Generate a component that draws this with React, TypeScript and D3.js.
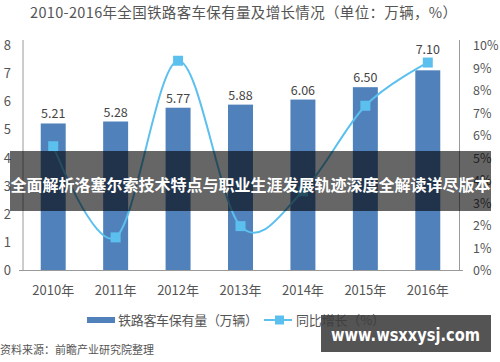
import React from "react";
import * as d3 from "d3";

const years = ["2010年", "2011年", "2012年", "2013年", "2014年", "2015年", "2016年"];
const stock = [5.21, 5.28, 5.77, 5.88, 6.06, 6.5, 7.1];
const stockLabels = ["5.21", "5.28", "5.77", "5.88", "6.06", "6.50", "7.10"];
const growth = [5.5, 1.45, 9.3, 1.95, 3.5, 7.3, 9.22];
const leftTicks = [0, 1, 2, 3, 4, 5, 6, 7, 8];
const rightTicks = [0, 1, 2, 3, 4, 5, 6, 7, 8, 9, 10];

const W = 500;
const H = 362;
const FONT = "'Noto Sans CJK SC', 'Noto Sans', sans-serif";
const BAR = "#5081bb";
const LINE = "#5cc0ef";
const AX = "#9a9a9a";
const TXT = "#555";

export default function App() {
  const x = d3.scaleBand<string>().domain(years).range([22, 459]).paddingInner(0.6).paddingOuter(0.3);
  const yL = d3.scaleLinear().domain([0, 8]).range([270, 45]);
  const yR = d3.scaleLinear().domain([0, 10]).range([270, 45]);
  const cx = (i: number) => (x(years[i]) as number) + x.bandwidth() / 2;
  const line = d3
    .line<number>()
    .x((_, i) => cx(i))
    .y((d) => yR(d))
    .curve(d3.curveCardinal.tension(0));

  const labelY = (i: number) => {
    const top = yL(stock[i]);
    const m = yR(growth[i]);
    if (m > top - 20 && m < top + 5) return m - 9;
    return top - 5;
  };

  return (
    <svg
      width={W}
      height={H}
      style={{ position: "absolute", left: 0, top: 0, background: "#fff" }}
      fontFamily={FONT}
    >
      <text x={30} y={18} fontSize={14.5} fill={TXT} textLength={427} lengthAdjust="spacing">
        2010-2016年全国铁路客车保有量及增长情况（单位：万辆，%）
      </text>

      {/* axes */}
      <line x1={23} x2={23} y1={40} y2={270} stroke={AX} strokeWidth={1} />
      <line x1={459.5} x2={459.5} y1={40} y2={270} stroke={AX} strokeWidth={1} />
      <line x1={19} x2={463} y1={270.5} y2={270.5} stroke={AX} strokeWidth={1} />

      {leftTicks.map((t) => (
        <text key={"l" + t} x={11} y={yL(t) + 5} fontSize={13} fill={TXT} textAnchor="end">
          {t}
        </text>
      ))}
      {rightTicks.map((t) => (
        <text key={"r" + t} x={473} y={yR(t) + 5} fontSize={12.5} fill={TXT}>
          {t}%
        </text>
      ))}

      {stock.map((v, i) => (
        <rect
          key={"b" + i}
          x={x(years[i]) as number}
          y={yL(v)}
          width={x.bandwidth()}
          height={yL(0) - yL(v)}
          fill={BAR}
        />
      ))}
      {stock.map((v, i) => (
        <text key={"bl" + i} x={cx(i)} y={labelY(i)} fontSize={12.5} fill="#444" textAnchor="middle">
          {stockLabels[i]}
        </text>
      ))}

      <path d={line(growth) || ""} fill="none" stroke={LINE} strokeWidth={2} />
      {growth.map((g, i) => (
        <rect key={"m" + i} x={cx(i) - 5} y={yR(g) - 5} width={10} height={10} fill={LINE} />
      ))}

      {years.map((y, i) => (
        <text key={"x" + i} x={cx(i)} y={295} fontSize={13} fill={TXT} textAnchor="middle">
          {y}
        </text>
      ))}

      {/* legend */}
      <rect x={87} y={317} width={28} height={6} fill={BAR} />
      <text x={118} y={325} fontSize={13} fill={TXT} textLength={140} lengthAdjust="spacing">
        铁路客车保有量（万辆）
      </text>
      <line x1={264} x2={292} y1={320} y2={320} stroke={LINE} strokeWidth={2} />
      <rect x={275} y={315.5} width={9} height={9} fill={LINE} />
      <text x={296} y={325} fontSize={13} fill={TXT} textLength={89} lengthAdjust="spacing">
        同比增长（%）
      </text>

      <text x={0} y={354} fontSize={11} fill={TXT}>
        资料来源：前瞻产业研究院整理
      </text>

      {/* overlay banner */}
      <rect x={10} y={151} width={481} height={60} fill="rgba(0,0,0,0.6)" />
      <text x={250.5} y={191} fontSize={16} fontWeight="bold" fill="#fff" textAnchor="middle">
        全面解析洛塞尔索技术特点与职业生涯发展轨迹深度全解读详尽版本
      </text>

      {/* watermark */}
      <rect x={321} y={315} width={170} height={37} fill="rgba(60,60,60,0.88)" />
      <text
        x={331}
        y={341}
        fontSize={18}
        fontWeight="bold"
        fill="#fff"
        fontFamily="'DejaVu Sans', sans-serif"
        textLength={149}
        lengthAdjust="spacingAndGlyphs"
      >
        www.wsxxysj.com
      </text>
    </svg>
  );
}
